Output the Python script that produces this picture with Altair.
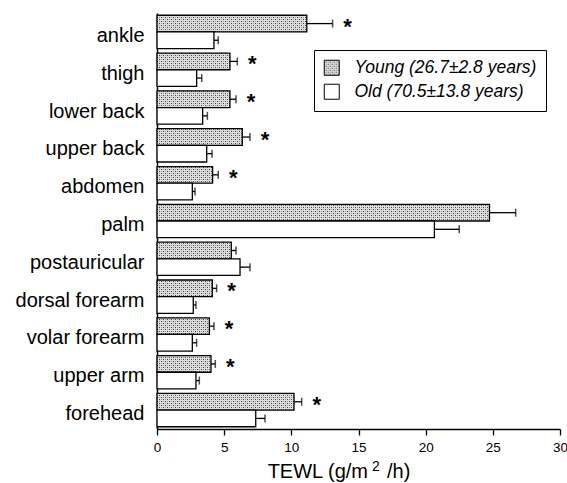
import altair as alt
import pandas as pd

# Skin sites, top to bottom
sites = ["ankle", "thigh", "lower back", "upper back", "abdomen", "palm",
         "postauricular", "dorsal forearm", "volar forearm", "upper arm", "forehead"]

# TEWL means and error (g/m2/h)
young_mean = [11.15, 5.43, 5.43, 6.35, 4.14, 24.75, 5.53, 4.12, 3.90, 4.02, 10.20]
young_err = [1.92, 0.55, 0.45, 0.57, 0.42, 1.95, 0.35, 0.32, 0.34, 0.32, 0.57]
old_mean = [4.24, 2.95, 3.40, 3.70, 2.63, 20.65, 6.18, 2.70, 2.63, 2.90, 7.35]
old_err = [0.32, 0.38, 0.35, 0.40, 0.20, 1.85, 0.74, 0.20, 0.32, 0.25, 0.69]

# significant young vs old difference
significant = [True, True, True, True, True, False, False, True, True, True, True]

groups = ["Young (26.7\u00b12.8 years)", "Old (70.5\u00b113.8 years)"]

rows = []
for i, s in enumerate(sites):
    rows.append(dict(site=s, group=groups[0], mean=young_mean[i], err=young_err[i], sig=significant[i]))
    rows.append(dict(site=s, group=groups[1], mean=old_mean[i], err=old_err[i], sig=False))
df = pd.DataFrame(rows)
df["hi"] = df["mean"] + df["err"]

FONT = "Liberation Sans"

y_enc = alt.Y("site:N", sort=sites, title=None,
              scale=alt.Scale(paddingInner=0.12, paddingOuter=0.06),
              axis=alt.Axis(labelFontSize=20, labelFont=FONT, labelColor="black",
                            ticks=False, labelPadding=13, labelOffset=4,
                            domainColor="black", domainWidth=1.5, labelLimit=220))
yoff = alt.YOffset("group:N", sort=groups, scale=alt.Scale(paddingInner=0, paddingOuter=0))
x_scale = alt.Scale(domain=[0, 30], nice=False)

base = alt.Chart(df)

bars = base.mark_bar(stroke="black", strokeWidth=1.3).encode(
    x=alt.X("mean:Q", scale=x_scale, title=None,
            axis=alt.Axis(values=[0, 5, 10, 15, 20, 25, 30], grid=False,
                          labelFontSize=13.5, labelFont=FONT, labelColor="black",
                          labelFlush=False,
                          tickColor="black", tickSize=6, tickWidth=1.3,
                          domainColor="black", domainWidth=1.5, labelPadding=5)),
    y=y_enc,
    yOffset=yoff,
    fill=alt.Fill("group:N", sort=groups,
                  scale=alt.Scale(domain=groups, range=["url(#dots)", "white"]),
                  legend=alt.Legend(title=None, orient="none", legendX=157, legendY=37,
                                    strokeColor="black", fillColor="white", padding=9,
                                    labelFontSize=17.5, labelFont=FONT, labelFontStyle="italic",
                                    labelColor="black", symbolType="square", symbolSize=225,
                                    symbolStrokeColor="black", symbolStrokeWidth=1,
                                    rowPadding=4, labelOffset=14, labelLimit=260)),
)

err_line = base.mark_rule(color="black", strokeWidth=1.3).encode(
    x="mean:Q", x2="hi:Q", y=alt.Y("site:N", sort=sites), yOffset=yoff)

err_cap = base.mark_tick(color="black", thickness=1.5, size=8, orient="vertical").encode(
    x="hi:Q", y=alt.Y("site:N", sort=sites), yOffset=yoff)

stars = base.transform_filter("datum.sig").mark_text(
    text="*", fontSize=22, fontWeight="bold", font=FONT, color="black",
    align="center", baseline="middle", dx=15, dy=3).encode(
    x="hi:Q", y=alt.Y("site:N", sort=sites), yOffset=yoff)

# x-axis title with superscript
title_df = pd.DataFrame({"t": ["TEWL (g/m", "2", "/h)"]})
t1 = alt.Chart(title_df).transform_filter("datum.t == 'TEWL (g/m'").mark_text(
    fontSize=20, font=FONT, align="right", baseline="alphabetic", color="black").encode(
    text="t:N", x=alt.value(211), y=alt.value(465))
t2 = alt.Chart(title_df).transform_filter("datum.t == '2'").mark_text(
    fontSize=14, font=FONT, align="left", baseline="alphabetic", color="black").encode(
    text="t:N", x=alt.value(215), y=alt.value(458))
t3 = alt.Chart(title_df).transform_filter("datum.t == '/h)'").mark_text(
    fontSize=20, font=FONT, align="left", baseline="alphabetic", color="black").encode(
    text="t:N", x=alt.value(230), y=alt.value(465))

chart = alt.layer(bars, err_line, err_cap, stars, t1, t2, t3).properties(
    width=403, height=416,
    autosize=alt.AutoSizeParams(type="none"),
    padding={"left": 157, "top": 13, "right": 7, "bottom": 54},
    background="white",
).configure_view(stroke=None)

chart.save("out.html", embed_options={"renderer": "svg", "actions": False})

# stipple fill used by the young-group bars
pattern = (
    '<svg width="0" height="0" style="position:absolute">'
    '<defs><pattern id="dots" width="4" height="4" patternUnits="userSpaceOnUse">'
    '<rect width="4" height="4" fill="#dedede"/>'
    '<rect x="0" y="0" width="1" height="1" fill="#444"/>'
    '<rect x="2" y="2" width="1" height="1" fill="#444"/>'
    '<rect x="2" y="0" width="1" height="1" fill="#999"/>'
    '<rect x="0" y="2" width="1" height="1" fill="#999"/>'
    '</pattern></defs></svg>'
)
with open("out.html", encoding="utf-8") as f:
    html = f.read()
html = html.replace("<body>", "<body>" + pattern, 1)
with open("out.html", "w", encoding="utf-8") as f:
    f.write(html)
